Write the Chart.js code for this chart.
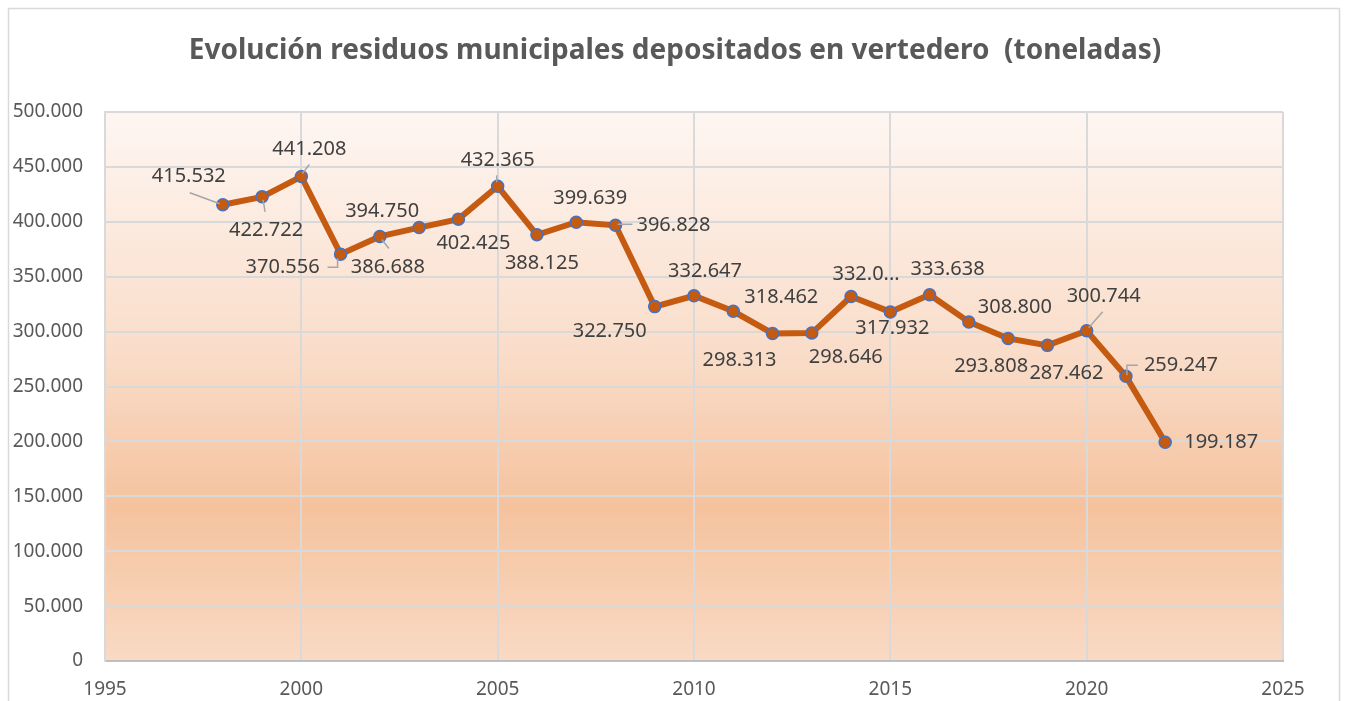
<!DOCTYPE html>
<html>
<head>
<meta charset="utf-8">
<script src="https://cdn.jsdelivr.net/npm/chart.js@4.4.1/dist/chart.umd.min.js"></script>
<style>
  html, body { margin: 0; padding: 0; background: #ffffff; overflow: hidden; }
  #wrap { width: 1347px; height: 701px; }
</style>
</head>
<body>
<div id="wrap"><canvas id="chart" width="1347" height="701"></canvas></div>
<script>
const TITLE = "Evolución residuos municipales depositados en vertedero  (toneladas)";

const years = [1998, 1999, 2000, 2001, 2002, 2003, 2004, 2005, 2006, 2007, 2008, 2009,
  2010, 2011, 2012, 2013, 2014, 2015, 2016, 2017, 2018, 2019, 2020, 2021, 2022];

const tonnes = [415532, 422722, 441208, 370556, 386688, 394750, 402425, 432365, 388125,
  399639, 396828, 322750, 332647, 318462, 298313, 298646, 332000, 317932, 333638,
  308800, 293808, 287462, 300744, 259247, 199187];

// Excel cut this label short in the original chart
const clippedLabels = [2014];

const xTicks = { min: 1995, max: 2025, step: 5 };
const yTicks = { min: 0, max: 500000, step: 50000 };

// label placement relative to its point (dx, dy of text centre), and leader lines
const labelOffsets = [
  [-34, -28], [4, 33], [8, -27], [-58, 13], [8, 31], [-37, -16], [15, 24], [0, -26],
  [5, 28], [14, -24], [58, 0], [-45, 25], [11, -24], [48, -14], [-33, 27], [34, 24],
  [15, -22], [2, 16], [18, -25], [46, -15], [-17, 28], [19, 28], [17, -34], [55, -11],
  [56, 0]
];
const leaders = {
  0: [[-33, -12], [-3, -1]],
  1: [[1, 3], [3, 15]],
  2: [[1, -3], [8, -12]],
  3: [[-13, 13], [-3, 13], [-3, 4]],
  4: [[2, 3], [9, 12]],
  7: [[-1, -11], [-1, -4]],
  10: [[2, -1], [17, -1]],
  22: [[2, -3], [16, -19]],
  23: [[1, -1], [1, -11], [12, -11]]
};

function fmt(n) {
  return String(Math.round(n)).replace(/\B(?=(\d{3})+(?!\d))/g, ".");
}

const frameAndBackground = {
  id: "frameAndBackground",
  beforeDraw(chart) {
    const ctx = chart.ctx;
    const a = chart.chartArea;
    ctx.save();
    ctx.fillStyle = "#ffffff";
    ctx.fillRect(0, 0, chart.width, chart.height);
    ctx.strokeStyle = "#d9d9d9";
    ctx.lineWidth = 1.5;
    ctx.strokeRect(8.5, 8.5, 1331, 720);
    const g = ctx.createLinearGradient(0, a.top, 0, a.bottom);
    g.addColorStop(0, "#fef6f2");
    g.addColorStop(0.45, "#f9dcc8");
    g.addColorStop(0.72, "#f5c29e");
    g.addColorStop(1, "#f9dac4");
    ctx.fillStyle = g;
    ctx.fillRect(a.left, a.top, a.right - a.left, a.bottom - a.top);

    // title, centred on the whole frame like Excel does
    ctx.font = "bold 28px 'Noto Sans'";
    ctx.fillStyle = "#595959";
    ctx.textAlign = "center";
    ctx.textBaseline = "middle";
    ctx.fillText(TITLE, 675, 51);
    ctx.restore();
  }
};

const dataLabels = {
  id: "dataLabels",
  afterDatasetsDraw(chart) {
    const ctx = chart.ctx;
    const pts = chart.getDatasetMeta(0).data;
    ctx.save();
    ctx.strokeStyle = "#a6a6a6";
    ctx.lineWidth = 1.5;
    Object.keys(leaders).forEach(function (k) {
      const p = pts[k];
      const seg = leaders[k];
      ctx.beginPath();
      ctx.moveTo(p.x + seg[0][0], p.y + seg[0][1]);
      for (let i = 1; i < seg.length; i++) {
        ctx.lineTo(p.x + seg[i][0], p.y + seg[i][1]);
      }
      ctx.stroke();
    });
    ctx.font = "20px 'Noto Sans'";
    ctx.fillStyle = "#404040";
    ctx.textAlign = "center";
    ctx.textBaseline = "middle";
    pts.forEach(function (p, i) {
      let text = fmt(tonnes[i]);
      if (clippedLabels.includes(years[i])) text = text.slice(0, 5) + "...";
      ctx.fillText(text, p.x + labelOffsets[i][0], p.y + labelOffsets[i][1]);
    });
    ctx.restore();
  }
};

window.onload = function () {
  const ctx = document.getElementById("chart").getContext("2d");
  new Chart(ctx, {
    type: "line",
    data: {
      datasets: [{
        label: "Toneladas",
        data: years.map((y, i) => ({ x: y, y: tonnes[i] })),
        borderColor: "#c55a11",
        borderWidth: 6,
        pointBackgroundColor: "#c55a11",
        pointBorderColor: "#4472c4",
        pointBorderWidth: 1.5,
        pointRadius: 6,
        tension: 0,
        fill: false
      }]
    },
    options: {
      responsive: false,
      animation: false,
      layout: { padding: { left: 0, right: 64, top: 112, bottom: 0 } },
      plugins: {
        legend: { display: false },
        tooltip: { enabled: false },
        title: { display: false }
      },
      scales: {
        x: {
          type: "linear",
          min: xTicks.min,
          max: xTicks.max,
          afterFit(scale) { scale.height = 40; },
          ticks: {
            stepSize: xTicks.step,
            color: "#595959",
            padding: 17,
            font: { family: "'Noto Sans'", size: 19 },
            callback: (v) => String(v)
          },
          grid: { color: "#d9d9d9", lineWidth: 2, drawTicks: false },
          border: { color: "#bfbfbf", width: 2 }
        },
        y: {
          min: yTicks.min,
          max: yTicks.max,
          afterFit(scale) { scale.width = 105; },
          ticks: {
            stepSize: yTicks.step,
            color: "#595959",
            padding: 22,
            font: { family: "'Noto Sans'", size: 19 },
            callback: (v) => fmt(v)
          },
          grid: { color: "#d9d9d9", lineWidth: 2, drawTicks: false },
          border: { color: "#d9d9d9", width: 2 }
        }
      }
    },
    plugins: [frameAndBackground, dataLabels]
  });
};
</script>
</body>
</html>
